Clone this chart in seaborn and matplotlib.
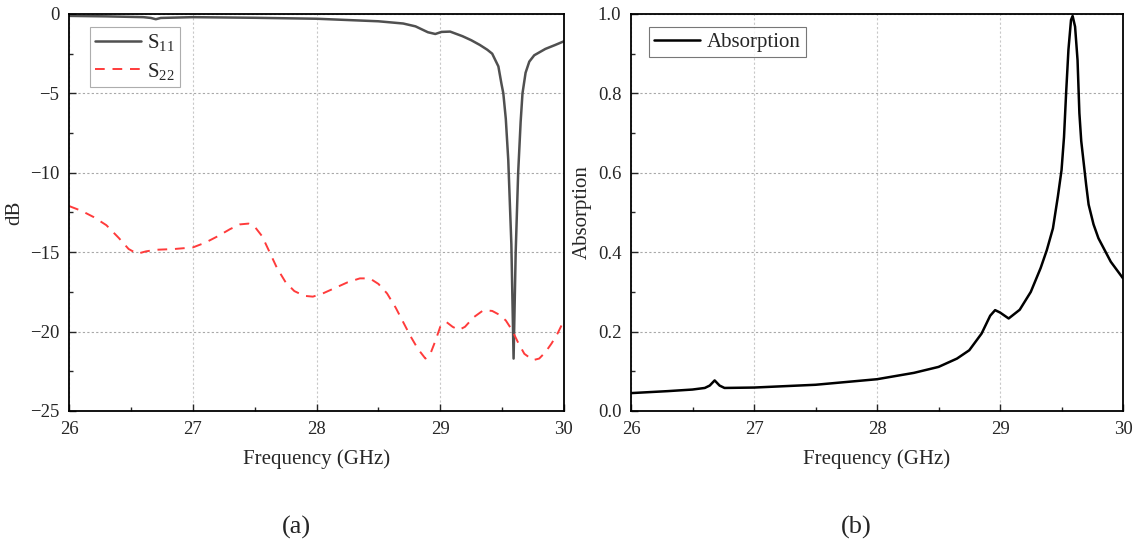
import pandas as pd
import matplotlib
matplotlib.use("Agg")
import matplotlib.pyplot as plt
from matplotlib.ticker import MultipleLocator, FormatStrFormatter
import seaborn as sns

# S11 (dB)
freq_s11 = [26.0, 26.3, 26.6, 26.66, 26.7, 26.74, 27.0, 27.5, 28.0, 28.5, 28.7, 28.8, 28.9,
            28.96, 29.01, 29.08, 29.18, 29.25, 29.32, 29.38, 29.42, 29.47, 29.495, 29.51, 29.53,
            29.55, 29.575, 29.593, 29.61, 29.63, 29.65, 29.665, 29.69, 29.72, 29.76, 29.85, 29.93, 30.0]
s11 = [-0.12, -0.15, -0.2, -0.25, -0.33, -0.25, -0.2, -0.24, -0.3, -0.46, -0.6, -0.78, -1.15,
       -1.26, -1.13, -1.11, -1.4, -1.65, -1.95, -2.25, -2.5, -3.3, -4.4, -5.0, -6.6,
       -9.2, -14.5, -21.7, -15.0, -10.0, -6.8, -5.0, -3.7, -3.0, -2.6, -2.2, -1.95, -1.72]

# S22 (dB)
freq_s22 = [26.0, 26.1, 26.2, 26.3, 26.4, 26.48, 26.55, 26.62, 26.7, 26.85, 27.0, 27.1, 27.2,
            27.3, 27.38, 27.45, 27.5, 27.56, 27.62, 27.68, 27.75, 27.82, 27.9, 27.97, 28.05,
            28.15, 28.25, 28.35, 28.43, 28.5, 28.57, 28.64, 28.7, 28.76, 28.82, 28.88, 28.92,
            28.96, 29.0, 29.05, 29.1, 29.15, 29.2, 29.27, 29.35, 29.42, 29.48, 29.53, 29.58,
            29.63, 29.68, 29.75, 29.8, 29.85, 29.9, 29.95, 30.0]
s22 = [-12.1, -12.4, -12.8, -13.3, -14.1, -14.8, -15.1, -14.95, -14.85, -14.8, -14.7, -14.4, -14.0,
       -13.55, -13.25, -13.2, -13.4, -14.0, -15.0, -16.0, -16.9, -17.45, -17.75, -17.8, -17.6,
       -17.25, -16.9, -16.65, -16.65, -17.0, -17.6, -18.5, -19.4, -20.3, -21.1, -21.7, -21.4,
       -20.6, -19.7, -19.4, -19.7, -19.9, -19.7, -19.1, -18.65, -18.7, -18.95, -19.3, -19.9,
       -20.7, -21.4, -21.8, -21.7, -21.3, -20.75, -20.1, -19.3]

# Absorption
freq_abs = [26.0, 26.3, 26.5, 26.6, 26.64, 26.68, 26.72, 26.76, 27.0, 27.5, 28.0, 28.3, 28.5,
            28.65, 28.75, 28.85, 28.92, 28.96, 29.0, 29.07, 29.16, 29.25, 29.33, 29.38, 29.43,
            29.47, 29.5, 29.52, 29.537, 29.556, 29.577, 29.59, 29.61, 29.63, 29.645, 29.66, 29.7,
            29.72, 29.76, 29.8, 29.9, 30.0]
absorption = [0.045, 0.05, 0.054, 0.058, 0.064, 0.077, 0.064, 0.058, 0.059, 0.066, 0.08, 0.096, 0.111,
              0.132, 0.153, 0.195, 0.24, 0.254, 0.248, 0.233, 0.255, 0.30, 0.36, 0.405, 0.46,
              0.54, 0.607, 0.69, 0.80, 0.91, 0.985, 0.995, 0.968, 0.884, 0.75, 0.68, 0.57,
              0.52, 0.47, 0.435, 0.376, 0.334]

sns.set_style("ticks")
plt.rcParams['font.family'] = ['Liberation Serif', 'DejaVu Serif']
plt.rcParams['mathtext.fontset'] = 'custom'
plt.rcParams['mathtext.rm'] = 'Liberation Serif'
plt.rcParams['mathtext.it'] = 'Liberation Serif:italic'
plt.rcParams['axes.unicode_minus'] = True
plt.rcParams['xtick.direction'] = 'in'
plt.rcParams['ytick.direction'] = 'in'

df_s11 = pd.DataFrame({"freq": freq_s11, "val": s11})
df_s22 = pd.DataFrame({"freq": freq_s22, "val": s22})
df_abs = pd.DataFrame({"freq": freq_abs, "val": absorption})

fig = plt.figure(figsize=(11.39, 5.46), dpi=100)
ax1 = fig.add_axes([0.0608, 0.2473, 0.4343, 0.7271])
ax2 = fig.add_axes([0.554, 0.2473, 0.432, 0.7271])

sns.lineplot(data=df_s11, x="freq", y="val", ax=ax1, color="#505050",
             linewidth=1.8, label=r"S$_{\mathrm{11}}$")
sns.lineplot(data=df_s22, x="freq", y="val", ax=ax1, color="#ff3b3b",
             linewidth=1.4, linestyle=(0, (5, 4)), label=r"S$_{\mathrm{22}}$")
sns.lineplot(data=df_abs, x="freq", y="val", ax=ax2, color="black", linewidth=1.8, label="Absorption")

ax1.set_ylim(-25, 0)
ax1.yaxis.set_major_locator(MultipleLocator(5))
ax1.yaxis.set_minor_locator(MultipleLocator(2.5))
ax1.set_ylabel("dB", fontsize=15)

ax2.set_ylim(0, 1.0)
ax2.yaxis.set_major_locator(MultipleLocator(0.2))
ax2.yaxis.set_minor_locator(MultipleLocator(0.1))
ax2.yaxis.set_major_formatter(FormatStrFormatter('%.1f'))
ax2.set_ylabel("Absorption", fontsize=15)

for ax in (ax1, ax2):
    ax.set_xlim(26, 30)
    ax.xaxis.set_major_locator(MultipleLocator(1))
    ax.xaxis.set_minor_locator(MultipleLocator(0.5))
    ax.set_xlabel("Frequency (GHz)", fontsize=15, labelpad=8)
    ax.tick_params(which='major', length=5, width=1, labelsize=13.5, pad=7)
    ax.tick_params(which='minor', length=3, width=1)
    ax.yaxis.grid(True, which='major', linestyle=(0, (2, 2)), color="#a8a8a8", linewidth=0.8)
    ax.xaxis.grid(True, which='major', linestyle=(0, (2, 2)), color="#c8c8c8", linewidth=0.8)
    for sp in ax.spines.values():
        sp.set_linewidth(1.3)
        sp.set_color("black")

leg1 = ax1.legend(loc="upper left", bbox_to_anchor=(0.042, 0.967), fontsize=15, frameon=True,
                  fancybox=False, edgecolor="#999999", handlelength=2.2, borderpad=0.25,
                  labelspacing=0.35, handletextpad=0.3, borderaxespad=0)
leg1.get_frame().set_linewidth(0.8)
leg2 = ax2.legend(loc="upper left", bbox_to_anchor=(0.037, 0.967), fontsize=15, frameon=True,
                  fancybox=False, edgecolor="#555555", handlelength=2.2, borderpad=0.25,
                  handletextpad=0.3, borderaxespad=0)
leg2.get_frame().set_linewidth(0.8)

fig.text(296 / 1139, 1 - 527 / 546, "(a)", ha="center", va="center", fontsize=19)
fig.text(856 / 1139, 1 - 527 / 546, "(b)", ha="center", va="center", fontsize=19)

fig.savefig("out.png", dpi=100)
